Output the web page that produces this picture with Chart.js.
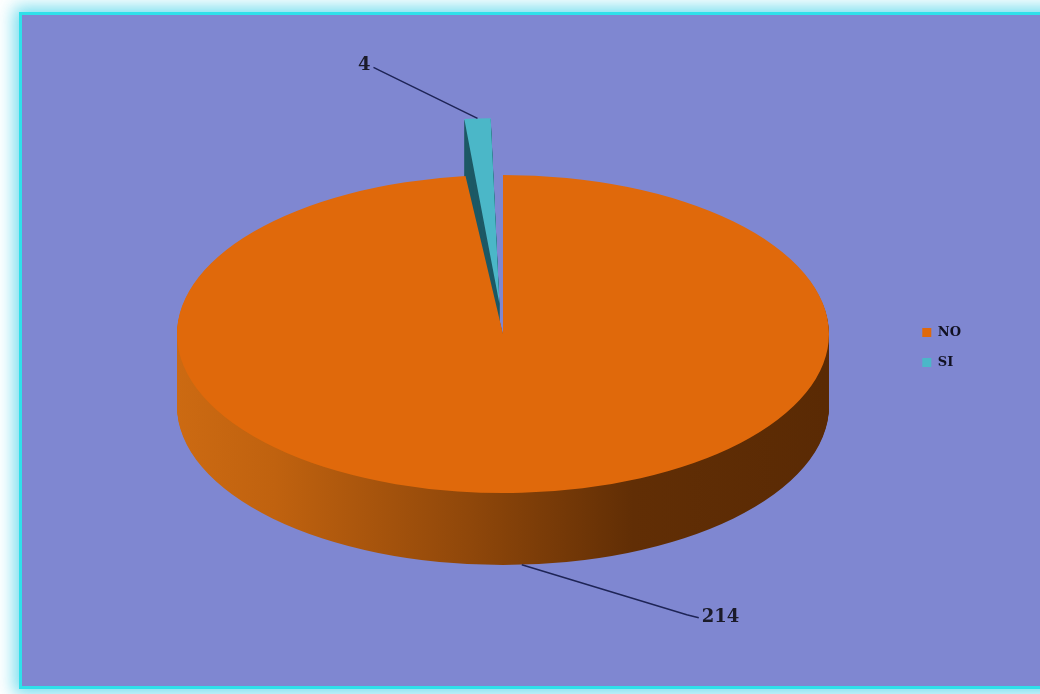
<!DOCTYPE html>
<html>
<head>
<meta charset="utf-8">
<script src="https://cdn.jsdelivr.net/npm/chart.js@4.4.0/dist/chart.umd.min.js"></script>
<style>
  html, body { margin: 0; padding: 0; background: #fff; overflow: hidden; }
  #frame {
    position: absolute; left: 19px; top: 12px;
    width: 1040px; height: 671px;
    border: 3px solid #2fe0ea;
    background: #7f87d1;
    box-shadow: 0 0 16px 5px rgba(90, 215, 235, 0.85);
  }
  #frame canvas { display: block; }
</style>
</head>
<body>
<div id="frame"><canvas id="pie" width="1040" height="671"></canvas></div>
<script>
const labels = ["NO", "SI"];
const counts = [214, 4];
const topColors = ["#e0690b", "#4bb7c8"];
const explode = [0, 228];

// side walls: NO gets a left-to-right shading, SI a flat dark teal
function sideFill(ctx, i, left, right) {
    if (i === 1) return "#1f5a66";
    const g = ctx.createLinearGradient(left, 0, right, 0);
    g.addColorStop(0, "#cc6a12");
    g.addColorStop(0.15, "#c0620f");
    g.addColorStop(0.45, "#8f470a");
    g.addColorStop(0.7, "#612e05");
    g.addColorStop(1, "#5a2a04");
    return g;
}

// outline of a slice as ArcElement draws it (offset shifts the centre,
// grows the radius and trims the sweep a little)
function sliceShape(el) {
    const off = (el.options.offset || 0) / 4;
    const fix = 1 - Math.sin(Math.min(Math.PI, el.circumference));
    const ro = off * fix;
    const half = (el.startAngle + el.endAngle) / 2;
    const r = el.outerRadius + ro;
    const alpha = el.endAngle - el.startAngle;
    const beta = Math.max(0.001, alpha * r - ro / Math.PI) / r;
    const trim = (alpha - beta) / 2;
    return {
        x: el.x + Math.cos(half) * off,
        y: el.y + Math.sin(half) * off,
        r: r,
        start: el.startAngle + trim,
        end: el.endAngle - trim,
        half: half
    };
}

const pie3d = {
    id: "pie3d",
    beforeDatasetsDraw(chart, args, o) {
        const meta = chart.getDatasetMeta(0);
        const ctx = chart.ctx;
        const base = meta.data[0];
        const R = base.outerRadius;
        const sx = o.rx / R, sy = o.ry / R;

        ctx.save();
        ctx.translate(o.cx, o.cy);
        ctx.scale(sx, sy);
        ctx.translate(-base.x, -base.y);

        meta.data.forEach((el, i) => {
            const s = sliceShape(el);
            ctx.fillStyle = sideFill(ctx, i, base.x - R, base.x + R);
            for (let d = o.depth; d >= 1; d--) {
                const oy = s.y + d / sy;
                ctx.beginPath();
                ctx.moveTo(s.x, oy);
                ctx.arc(s.x, oy, s.r, s.start, s.end);
                ctx.closePath();
                ctx.fill();
            }
        });
    },
    afterDatasetsDraw(chart) {
        chart.ctx.restore();
    },
    afterDraw(chart, args, o) {
        const meta = chart.getDatasetMeta(0);
        const ctx = chart.ctx;
        const base = meta.data[0];
        const R = base.outerRadius;
        const sx = o.rx / R, sy = o.ry / R;
        const toScreen = (px, py) => ({
            x: o.cx + (px - base.x) * sx,
            y: o.cy + (py - base.y) * sy
        });

        ctx.save();
        ctx.font = "bold 18px 'DejaVu Serif'";
        ctx.fillStyle = "#1b1b2a";
        ctx.strokeStyle = "#1e2456";
        ctx.lineWidth = 1.5;
        meta.data.forEach((el, i) => {
            const s = sliceShape(el);
            const p = toScreen(s.x + Math.cos(s.half) * s.r, s.y + Math.sin(s.half) * s.r);
            // labels on the lower half hang off the bottom of the wall
            if (Math.sin(s.half) > 0) p.y += o.depth;
            const lo = o.leaders[i];
            ctx.beginPath();
            ctx.moveTo(p.x, p.y);
            ctx.lineTo(p.x + lo.bx, p.y + lo.by);
            ctx.lineTo(p.x + lo.ex, p.y + lo.ey);
            ctx.stroke();
            ctx.textAlign = lo.ex < 0 ? "right" : "left";
            ctx.textBaseline = "alphabetic";
            ctx.fillText(String(counts[i]), p.x + lo.ex + lo.tx, p.y + lo.ey + lo.ty);
        });
        ctx.restore();
    }
};

new Chart(document.getElementById("pie"), {
    type: "pie",
    data: {
        labels: labels,
        datasets: [{
            data: counts,
            backgroundColor: topColors,
            borderWidth: 0,
            offset: explode,
            clip: false
        }]
    },
    options: {
        responsive: false,
        animation: false,
        radius: 300,
        layout: { padding: { right: 91, bottom: 6 } },
        plugins: {
            tooltip: { enabled: false },
            legend: {
                position: "right",
                labels: {
                    boxWidth: 9,
                    boxHeight: 9,
                    padding: 17,
                    color: "#111122",
                    font: { family: "'DejaVu Serif'", size: 13, weight: "bold" }
                }
            },
            pie3d: {
                cx: 481, cy: 319, rx: 326, ry: 159, depth: 72,
                leaders: [
                    { bx: 165, by: 50, ex: 177, ey: 53, tx: 3, ty: 4 },
                    { bx: -98, by: -48, ex: -104, ey: -51, tx: -3, ty: 3 }
                ]
            }
        }
    },
    plugins: [pie3d]
});
</script>
</body>
</html>
